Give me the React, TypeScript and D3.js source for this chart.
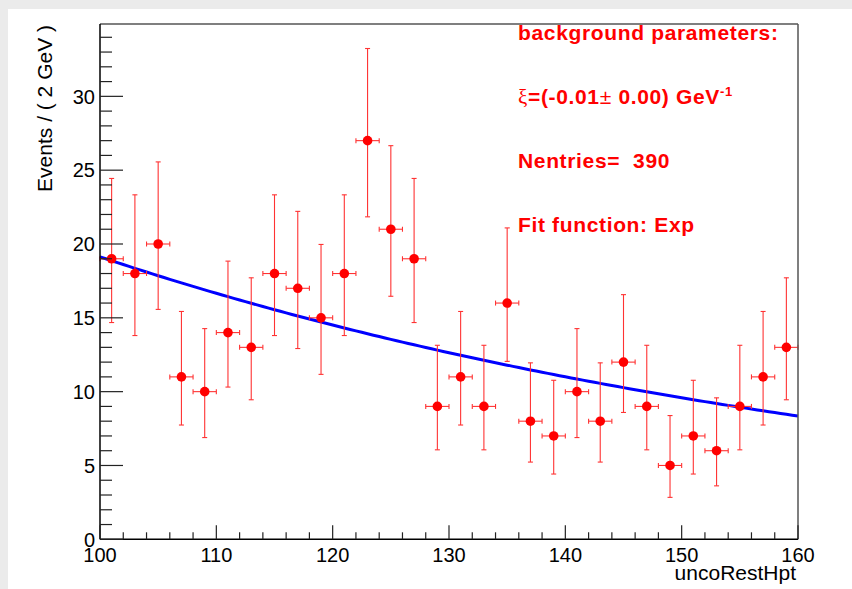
import React from "react";
import * as d3 from "d3";

const binCenters = [101,103,105,107,109,111,113,115,117,119,121,123,125,127,129,131,133,135,137,139,141,143,145,147,149,151,153,155,157,159];
const counts = [19,18,20,11,10,14,13,18,17,15,18,27,21,19,9,11,9,16,8,7,10,8,12,9,5,7,6,9,11,13];
const errLow = [14.68,13.80,15.57,7.74,6.89,10.31,9.45,13.80,12.92,11.17,13.80,21.84,16.46,14.68,6.06,7.74,6.06,12.05,5.23,4.42,6.89,5.23,8.59,6.06,2.84,4.42,3.62,6.06,7.74,9.45];
const errHigh = [24.44,23.33,25.56,15.43,14.27,18.84,17.71,23.33,22.21,19.97,23.33,33.24,26.66,24.44,13.14,15.43,13.14,21.09,11.95,10.77,14.27,11.95,16.57,13.14,8.38,10.77,9.58,13.14,15.43,17.71];
const binHalfWidth = 1;
const fitNorm = 19.13; // value at x = 100
const fitSlope = -0.01382; // per GeV
const xMajorTicks = [100,110,120,130,140,150,160];
const yMajorTicks = [0,5,10,15,20,25,30];
const legendLines = ["background parameters:", "Nentries=\u00a0\u00a0390", "Fit function: Exp"];

const W = 852, H = 589;
const L = 100, R = 798, T = 24, B = 539.3;

export default function App() {
  const x = d3.scaleLinear().domain([100, 160]).range([L, R]);
  const y = d3.scaleLinear().domain([0, 34.9]).range([B, T]);
  const xMinor = d3.range(100, 160.01, 2).filter(v => !xMajorTicks.includes(v));
  const yMinor = d3.range(0, 34.9, 1).filter(v => !yMajorTicks.includes(v));
  const fitX = d3.range(100, 160.001, 0.5);
  const fitLine = d3.line<number>().x(v => x(v)).y(v => y(fitNorm * Math.exp(fitSlope * (v - 100))));
  const font = "'Liberation Sans', Arial, Helvetica, sans-serif";
  const red = "#ff0000";
  const errColor = "#ff3333";
  return (
    <div style={{ position: "absolute", left: 0, top: 0 }}>
      <svg width={W} height={H} style={{ display: "block" }} fontFamily={font}>
        <rect x={0} y={0} width={W} height={H} fill="#ebebeb" />
        <rect x={8} y={9} width={W - 8} height={H - 9} fill="#ffffff" />
        {/* fit curve */}
        <path d={fitLine(fitX) || ""} fill="none" stroke="#0000ff" strokeWidth={3} />
        {/* data points */}
        {binCenters.map((c, i) => {
          const cx = x(c), cy = y(counts[i]);
          const xl = x(c - binHalfWidth), xr = x(c + binHalfWidth);
          const yl = y(errLow[i]), yh = y(errHigh[i]);
          return (
            <g key={i} stroke={errColor} strokeWidth={1.1}>
              <line x1={xl} x2={xr} y1={cy} y2={cy} />
              <line x1={xl} x2={xl} y1={cy - 2.5} y2={cy + 2.5} />
              <line x1={xr} x2={xr} y1={cy - 2.5} y2={cy + 2.5} />
              <line x1={cx} x2={cx} y1={yl} y2={yh} />
              <line x1={cx - 2.5} x2={cx + 2.5} y1={yl} y2={yl} />
              <line x1={cx - 2.5} x2={cx + 2.5} y1={yh} y2={yh} />
              <circle cx={cx} cy={cy} r={4.8} fill={red} stroke="none" />
            </g>
          );
        })}
        {/* frame */}
        <line x1={L} x2={R} y1={T} y2={T} stroke="#555" strokeWidth={1.5} />
        <line x1={R} x2={R} y1={T} y2={B} stroke="#555" strokeWidth={1.5} />
        <line x1={L} x2={L} y1={T} y2={B} stroke="#000" strokeWidth={1.5} />
        <line x1={L} x2={R} y1={B} y2={B} stroke="#000" strokeWidth={1.5} />
        {/* y ticks */}
        {yMajorTicks.map(v => (
          <g key={"ym" + v}>
            <line x1={L} x2={L + 23} y1={y(v)} y2={y(v)} stroke="#222" strokeWidth={1.2} />
            <text x={95} y={y(v)} dy="0.36em" textAnchor="end" fontSize={20} fill="#000">{v}</text>
          </g>
        ))}
        {yMinor.map(v => (
          <line key={"yn" + v} x1={L} x2={L + 12} y1={y(v)} y2={y(v)} stroke="#222" strokeWidth={1.2} />
        ))}
        {/* x ticks */}
        {xMajorTicks.map(v => (
          <g key={"xm" + v}>
            <line x1={x(v)} x2={x(v)} y1={B} y2={B - 14} stroke="#222" strokeWidth={1.2} />
            <text x={x(v)} y={561.5} textAnchor="middle" fontSize={20} fill="#000">{v}</text>
          </g>
        ))}
        {xMinor.map(v => (
          <line key={"xn" + v} x1={x(v)} x2={x(v)} y1={B} y2={B - 7} stroke="#222" strokeWidth={1.2} />
        ))}
        {/* axis titles */}
        <text x={796} y={580} textAnchor="end" fontSize={21} fill="#000">uncoRestHpt</text>
        <text transform={`translate(52,${T + 1}) rotate(-90)`} textAnchor="end" fontSize={21} fill="#000">Events / ( 2 GeV )</text>
        {/* legend */}
        <g fill={red} fontSize={21} fontWeight="bold" letterSpacing={0.65}>
          <text x={518} y={39.5}>{legendLines[0]}</text>
          <text x={518} y={104}>
            <tspan fontFamily="'Liberation Serif', 'DejaVu Serif', serif" fontWeight="normal">ξ</tspan>
            <tspan>=(-0.01</tspan>
            <tspan fontWeight="normal">±</tspan>
            <tspan>{"\u00a00.00) GeV"}</tspan>
            <tspan fontSize={13} dy={-8}>-1</tspan>
          </text>
          <text x={518} y={168}>{legendLines[1]}</text>
          <text x={518} y={232}>{legendLines[2]}</text>
        </g>
      </svg>
    </div>
  );
}
